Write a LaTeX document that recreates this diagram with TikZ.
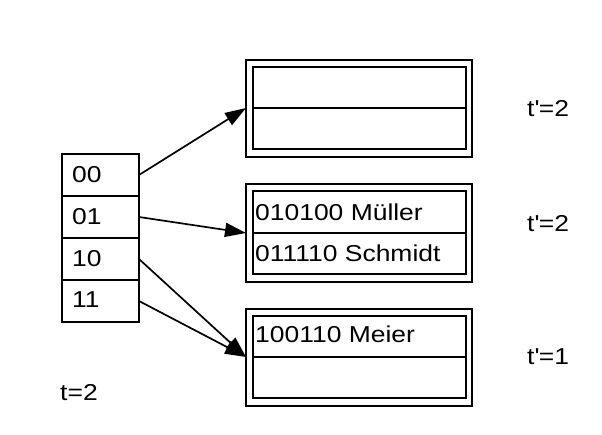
\documentclass[tikz,border=0pt]{standalone}
\usepackage{fontspec}
\setmainfont[FakeStretch=1.15]{Liberation Sans}
\usetikzlibrary{arrows.meta}
\begin{document}
\begin{tikzpicture}[x=1pt,y=-1pt,
  cell/.style={draw,line width=1.7pt},
  lbl/.style={anchor=base west,inner sep=0pt,font=\fontsize{23}{23}\selectfont},
  ptr/.style={line width=1.7pt,-{Triangle[length=21pt,width=14pt]}}]
\useasboundingbox (0,0) rectangle (602,435);
% directory
\foreach \ya/\yb in {154/196,196/238,238/280,280/322}{
  \draw[cell] (62,\ya) rectangle (139,\yb);
}
\coordinate (d0) at (139,175);
\coordinate (d1) at (139,217);
\coordinate (d2) at (139,259);
\coordinate (d3) at (139,301);
\node[lbl] (t00) at (72,183) {00};
\node[lbl] (t01) at (72,225) {01};
\node[lbl] (t10) at (72,267) {10};
\node[lbl] (t11) at (72,308) {11};
% buckets
\foreach \ya/\yb/\ia/\im/\ib in {60/157/67/108/149, 184/282/191/233/274, 309/406/316/357/398}{
  \draw[line width=2pt] (246,\ya) rectangle (472,\yb);
  \draw[line width=1.7pt] (253,\ia) rectangle (466,\ib);
  \draw[line width=1.7pt] (253,\im) -- (466,\im);
}
\coordinate (b1) at (246,108);
\coordinate (b2) at (246,233);
\coordinate (b3) at (246,357);
\node[lbl] (m) at (255,221) {010100 Müller};
\node[lbl] (s) at (255,262) {011110 Schmidt};
\node[lbl] (me) at (255,342) {100110 Meier};
\node[lbl] (p1) at (527,117) {t\textquotesingle=2};
\node[lbl] (p2) at (527,232) {t\textquotesingle=2};
\node[lbl] (p3) at (527,364) {t\textquotesingle=1};
\node[lbl] (t) at (60,400) {t=2};
% pointers
\draw[ptr] (d0) -- (b1);
\draw[ptr] (d1) -- (b2);
\draw[ptr] (d2) -- (b3);
\draw[ptr] (d3) -- (b3);
\end{tikzpicture}
\end{document}
